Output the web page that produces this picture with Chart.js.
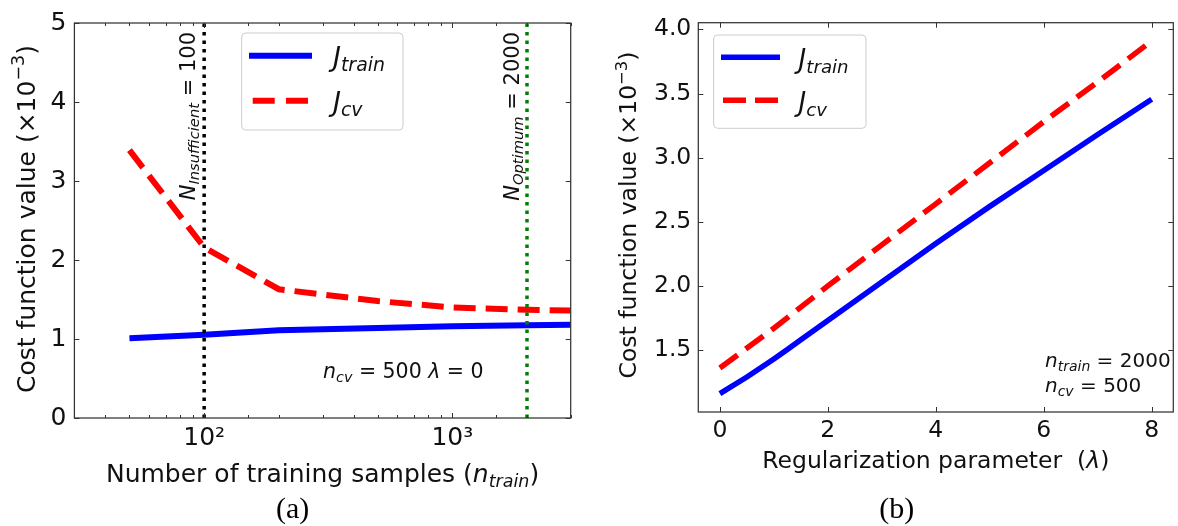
<!DOCTYPE html>
<html>
<head>
<meta charset="utf-8">
<script src="https://cdn.jsdelivr.net/npm/chart.js@4.4.0/dist/chart.umd.min.js"></script>
<style>
  html, body { margin: 0; padding: 0; background: #fff; }
  #wrap { position: relative; width: 1178px; height: 526px; }
  #ca { position: absolute; left: 0; top: 0; }
  #cb { position: absolute; left: 590px; top: 0; }
</style>
</head>
<body>
<div id="wrap">
  <canvas id="ca" width="590" height="526"></canvas>
  <canvas id="cb" width="588" height="526"></canvas>
</div>
<script>
// (a) cost vs number of training samples
const nTrain = [50, 100, 200, 500, 1000, 2000, 3000];
const jTrainA = [1.01, 1.055, 1.11, 1.14, 1.16, 1.175, 1.18];
const jCvA = [3.39, 2.16, 1.63, 1.48, 1.40, 1.37, 1.36];
const nInsufficient = 100;
const nOptimum = 2000;

// (b) cost vs regularization parameter
const lambdaTrain = [0, 0.5, 1, 1.25, 1.5, 2, 3, 4, 5, 6, 7, 8];
const jTrainB = [1.16, 1.29, 1.43, 1.505, 1.58, 1.73, 2.03, 2.33, 2.62, 2.90, 3.18, 3.455];
const lambdaCv = [0, 1, 2, 3, 4, 5, 6, 7, 8];
const jCvB = [1.36, 1.67, 2.0, 2.32, 2.64, 2.96, 3.28, 3.59, 3.91];

const FONT = '"DejaVu Sans"';
const INK = '#111';

// draw a mathtext-like run: parts = [[text, style]], style r | i | sub | sup
function mathText(ctx, parts, size, x, y, align, rot) {
  const segs = parts.map(([t, s]) => {
    let fs = size, dy = 0, it = (s === 'i' || s === 'sub');
    if (s === 'sub') { fs = size * 0.7; dy = size * 0.2; }
    if (s === 'sup') { fs = size * 0.7; dy = -size * 0.42; }
    const font = (it ? 'italic ' : '') + fs + 'px ' + FONT;
    ctx.font = font;
    return { t, font, dy, w: ctx.measureText(t).width };
  });
  const total = segs.reduce((a, s) => a + s.w, 0);
  ctx.save();
  ctx.translate(x, y);
  if (rot) ctx.rotate(rot);
  ctx.fillStyle = INK;
  ctx.textBaseline = 'alphabetic';
  ctx.textAlign = 'left';
  let cx = align === 'center' ? -total / 2 : (align === 'right' ? -total : 0);
  segs.forEach(s => { ctx.font = s.font; ctx.fillText(s.t, cx, s.dy); cx += s.w; });
  ctx.restore();
}

function drawFrame(ctx, a, xs, ys, isMajorX) {
  ctx.save();
  ctx.strokeStyle = '#333';
  ctx.lineWidth = 1.25;
  ctx.strokeRect(a.left, a.top, a.right - a.left, a.bottom - a.top);
  ctx.lineWidth = 1;
  ctx.beginPath();
  xs.ticks.forEach(t => {
    const px = Math.round(xs.getPixelForValue(t.value)) + 0.5;
    const len = isMajorX(t.value) ? 5 : 3;
    ctx.moveTo(px, a.bottom); ctx.lineTo(px, a.bottom - len);
    ctx.moveTo(px, a.top); ctx.lineTo(px, a.top + len);
  });
  ys.ticks.forEach(t => {
    const py = Math.round(ys.getPixelForValue(t.value)) + 0.5;
    ctx.moveTo(a.left, py); ctx.lineTo(a.left + 5, py);
    ctx.moveTo(a.right, py); ctx.lineTo(a.right - 5, py);
  });
  ctx.stroke();
  ctx.restore();
}

function drawLegend(ctx, box, lineX, rows, size) {
  ctx.save();
  const r = 4;
  ctx.beginPath();
  ctx.roundRect(box[0], box[1], box[2] - box[0], box[3] - box[1], r);
  ctx.fillStyle = 'rgba(255,255,255,0.8)';
  ctx.fill();
  ctx.strokeStyle = '#cccccc';
  ctx.lineWidth = 1;
  ctx.stroke();
  rows.forEach(row => {
    ctx.beginPath();
    ctx.strokeStyle = row.color;
    ctx.lineWidth = row.width;
    ctx.lineCap = 'butt';
    ctx.setLineDash(row.dash || []);
    ctx.moveTo(row.x0, row.y); ctx.lineTo(row.x1, row.y);
    ctx.stroke();
    ctx.setLineDash([]);
    mathText(ctx, [['J', 'i'], [row.sub, 'sub']], size, lineX, row.base, 'left');
  });
  ctx.restore();
}

function serifLabel(ctx, text, x, y) {
  ctx.save();
  ctx.font = '30px "Liberation Serif"';
  ctx.fillStyle = '#000';
  ctx.textAlign = 'center';
  ctx.fillText(text, x, y);
  ctx.restore();
}

const decorA = {
  id: 'decorA',
  afterDraw(chart) {
    const { ctx, chartArea: a, scales: { x, y } } = chart;
    drawFrame(ctx, a, x, y, v => v === 100 || v === 1000);
    const xi = x.getPixelForValue(nInsufficient);
    const xo = x.getPixelForValue(nOptimum);
    mathText(ctx, [['N', 'i'], ['Insufficient', 'sub'], [' = ' + nInsufficient, 'r']], 21, xi - 9.5, 32, 'right', -Math.PI / 2);
    mathText(ctx, [['N', 'i'], ['Optimum', 'sub'], [' = ' + nOptimum, 'r']], 21, xo - 8.5, 32, 'right', -Math.PI / 2);
    drawLegend(ctx, [241.7, 33, 403, 130], 333, [
      { color: '#0000ff', width: 6, x0: 249, x1: 312, y: 55.7, sub: 'train', base: 66 },
      { color: '#ff0000', width: 6, x0: 252.7, x1: 308.3, y: 100.7, dash: [22, 11.3], sub: 'cv', base: 111 }
    ], 27);
    mathText(ctx, [['n', 'i'], ['cv', 'sub'], [' = 500 ', 'r'], ['λ', 'i'], [' = 0', 'r']], 20.5, 323, 378.3, 'left');
    mathText(ctx, [['Cost function value (×10', 'r'], ['−3', 'sup'], [')', 'r']], 25, 34.6, 219, 'center', -Math.PI / 2);
    mathText(ctx, [['Number of training samples (', 'r'], ['n', 'i'], ['train', 'sub'], [')', 'r']], 25, (a.left + a.right) / 2, 481.5, 'center');
    serifLabel(ctx, '(a)', 292.6, 517.5);
  }
};

const decorB = {
  id: 'decorB',
  afterDraw(chart) {
    const { ctx, chartArea: a, scales: { x, y } } = chart;
    drawFrame(ctx, a, x, y, () => true);
    const o = -590;
    drawLegend(ctx, [713.6 + o, 35, 866 + o, 128.3], 798.6 + o, [
      { color: '#0000ff', width: 5.5, x0: 721 + o, x1: 780 + o, y: 57.3, sub: 'train', base: 68 },
      { color: '#ff0000', width: 5.5, x0: 723 + o, x1: 778 + o, y: 100.3, dash: [23, 9], sub: 'cv', base: 111 }
    ], 26);
    mathText(ctx, [['n', 'i'], ['train', 'sub'], [' = 2000', 'r']], 20, 1045 + o, 366.7, 'left');
    mathText(ctx, [['n', 'i'], ['cv', 'sub'], [' = 500', 'r']], 20, 1045 + o, 391.7, 'left');
    mathText(ctx, [['Cost function value (×10', 'r'], ['−3', 'sup'], [')', 'r']], 23.5, 636.4 + o, 215, 'center', -Math.PI / 2);
    mathText(ctx, [['Regularization parameter  (', 'r'], ['λ', 'i'], [')', 'r']], 23.5, (a.left + a.right) / 2, 468.3, 'center');
    serifLabel(ctx, '(b)', 896.8 + o, 517.5);
  }
};

const toXY = (xs, ys) => xs.map((v, i) => ({ x: v, y: ys[i] }));

new Chart(document.getElementById('ca'), {
  type: 'line',
  data: {
    datasets: [
      { data: [{ x: nInsufficient, y: 0 }, { x: nInsufficient, y: 5 }], borderColor: '#000', borderWidth: 3.5, borderDash: [3.5, 5], order: 0, clip: 0 },
      { data: [{ x: nOptimum, y: 0 }, { x: nOptimum, y: 5 }], borderColor: '#008000', borderWidth: 3.5, borderDash: [3.5, 5], order: 0, clip: 0 },
      { label: 'J_train', data: toXY(nTrain, jTrainA), borderColor: '#0000ff', borderWidth: 6, order: 1, clip: 0 },
      { label: 'J_cv', data: toXY(nTrain, jCvA), borderColor: '#ff0000', borderWidth: 6, borderDash: [22, 10], order: 1, clip: 0 }
    ]
  },
  options: {
    responsive: false,
    animation: false,
    elements: { point: { radius: 0 }, line: { tension: 0, borderCapStyle: 'butt', fill: false } },
    layout: { padding: { left: 0, right: 19.3, top: 19.5, bottom: 0 } },
    plugins: { legend: { display: false }, tooltip: { enabled: false } },
    scales: {
      x: {
        type: 'logarithmic', min: 30, max: 3000,
        grid: { display: false, drawTicks: false }, border: { display: false },
        ticks: {
          autoSkip: false, maxRotation: 0, minRotation: 0, padding: 5, color: INK,
          font: { family: 'DejaVu Sans', size: 25 },
          callback: v => v === 100 ? '10²' : (v === 1000 ? '10³' : '')
        },
        afterFit: s => { s.height = 108; }
      },
      y: {
        min: 0, max: 5,
        grid: { display: false, drawTicks: false }, border: { display: false },
        ticks: { stepSize: 1, padding: 8, color: INK, font: { family: 'DejaVu Sans', size: 25 } },
        afterFit: s => { s.width = 74.4; }
      }
    }
  },
  plugins: [decorA]
});

new Chart(document.getElementById('cb'), {
  type: 'line',
  data: {
    datasets: [
      { label: 'J_train', data: toXY(lambdaTrain, jTrainB), borderColor: '#0000ff', borderWidth: 5.5, clip: 0 },
      { label: 'J_cv', data: toXY(lambdaCv, jCvB), borderColor: '#ff0000', borderWidth: 5.5, borderDash: [22, 10], clip: 0 }
    ]
  },
  options: {
    responsive: false,
    animation: false,
    elements: { point: { radius: 0 }, line: { tension: 0, borderCapStyle: 'butt', fill: false } },
    layout: { padding: { left: 0, right: 4.7, top: 22.7, bottom: 0 } },
    plugins: { legend: { display: false }, tooltip: { enabled: false } },
    scales: {
      x: {
        type: 'linear', min: -0.4, max: 8.4,
        grid: { display: false, drawTicks: false }, border: { display: false },
        ticks: { stepSize: 2, includeBounds: false, maxRotation: 0, padding: 5, color: INK, font: { family: 'DejaVu Sans', size: 23.5 } },
        afterFit: s => { s.height = 114; }
      },
      y: {
        min: 1.017, max: 4.052,
        grid: { display: false, drawTicks: false }, border: { display: false },
        ticks: { stepSize: 0.5, includeBounds: false, padding: 7, color: INK, font: { family: 'DejaVu Sans', size: 23.5 },
          callback: v => v.toFixed(1) },
        afterFit: s => { s.width = 108.3; }
      }
    }
  },
  plugins: [decorB]
});
</script>
</body>
</html>
